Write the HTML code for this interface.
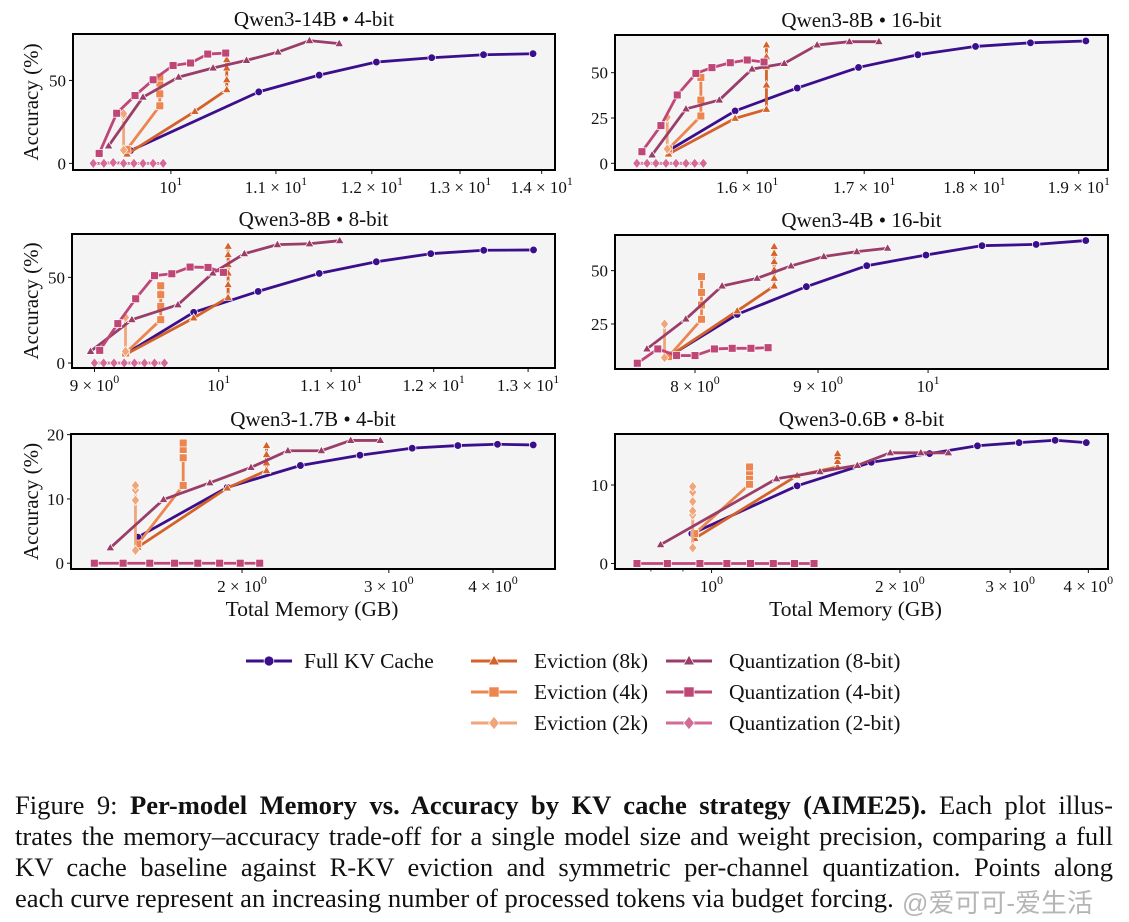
<!DOCTYPE html>
<html><head><meta charset="utf-8">
<style>
html,body{margin:0;padding:0;background:#fff;}
body{width:1129px;height:922px;position:relative;overflow:hidden;font-family:"Liberation Serif",serif;}
svg{position:absolute;left:0;top:0;}
.cap{position:absolute;left:15px;width:1098px;font-size:26.6px;line-height:31px;color:#111;text-align:justify;text-align-last:justify;white-space:nowrap;}
.cap.last{text-align-last:left;}
.wm{position:absolute;left:902px;top:883px;font-family:"Liberation Sans","Noto Sans CJK SC",sans-serif;font-size:26px;color:rgba(120,120,120,0.55);}
</style></head>
<body>
<svg id="fig" width="1129" height="922"></svg>
<div class="cap" style="top:790px">Figure 9: <b>Per-model Memory vs. Accuracy by KV cache strategy (AIME25).</b> Each plot illus-</div>
<div class="cap" style="top:821px">trates the memory–accuracy trade-off for a single model size and weight precision, comparing a full</div>
<div class="cap" style="top:852px">KV cache baseline against R-KV eviction and symmetric per-channel quantization. Points along</div>
<div class="cap last" style="top:883px">each curve represent an increasing number of processed tokens via budget forcing.</div>
<div class="wm">@爱可可-爱生活</div>
<script>
// ---- Panel 1: Qwen3-14B 4-bit ----
const p1_full=[[9.64,7.7],[10.83,43.1],[11.44,53.2],[12.05,61.1],[12.67,63.7],[13.28,65.5],[13.89,66.1]];
const p1_ev8=[[9.61,5.6],[10.22,31.3],[10.52,44.4],[10.52,50.4],[10.52,57.5],[10.52,62.5]];
const p1_ev4=[[9.61,8.5],[9.90,34.7],[9.90,41.9],[9.90,48.4],[9.90,52]];
const p1_ev2=[[9.58,8],[9.58,28.6],[9.58,30]];
const p1_q8=[[9.45,10.5],[9.75,39.9],[10.07,52],[10.39,57.5],[10.71,62.1],[11.02,67.1],[11.34,74],[11.65,72.2]];
const p1_q4=[[9.37,6],[9.52,30.2],[9.68,40.9],[9.84,50.4],[10.02,59],[10.18,60.5],[10.34,65.9],[10.51,66.5]];
const p1_q2=[[9.32,0],[9.41,0],[9.49,0.5],[9.58,0],[9.67,0],[9.75,0],[9.84,0],[9.93,0]];
// ---- Panel 2: Qwen3-8B 16-bit ----
const p2_full=[[15.36,7],[15.90,28.9],[16.42,41.5],[16.95,52.9],[17.48,59.9],[18.01,64.5],[18.53,66.5],[19.07,67.5]];
const p2_ev8=[[15.36,5.1],[15.90,24.8],[16.16,29.8],[16.16,43.2],[16.16,53.3],[16.16,58.8],[16.16,65.3]];
const p2_ev4=[[15.36,7.9],[15.62,26.1],[15.62,34.9],[15.62,47.4]];
const p2_ev2=[[15.35,7.9],[15.35,25.4]];
const p2_q8=[[15.23,4.6],[15.50,30],[15.77,34.9],[16.04,52],[16.31,55.1],[16.59,65.3],[16.87,67.1],[17.13,67.1]];
const p2_q4=[[15.15,6.4],[15.30,20.8],[15.43,37.7],[15.58,49.6],[15.71,52.8],[15.86,55.5],[16.0,57],[16.14,55.9]];
const p2_q2=[[15.11,0],[15.19,0],[15.26,0],[15.34,0],[15.42,0],[15.50,0],[15.57,0],[15.64,0]];
// ---- Panel 3: Qwen3-8B 8-bit ----
const p3_full=[[9.25,5.8],[9.79,29.6],[10.34,41.8],[10.89,52.3],[11.43,59.1],[11.97,63.8],[12.52,65.8],[13.06,66]];
const p3_ev8=[[9.25,5.4],[9.79,26.3],[10.08,38.3],[10.08,45.7],[10.08,52.5],[10.08,57.4],[10.08,63.2],[10.08,68.1]];
const p3_ev4=[[9.24,5.8],[9.52,25.3],[9.52,33.1],[9.52,39.9],[9.52,45.1]];
const p3_ev2=[[9.24,6.8],[9.24,26.7]];
const p3_q8=[[8.97,6.8],[9.29,25.3],[9.66,34],[9.95,52.5],[10.22,63.8],[10.51,69.1],[10.80,69.6],[11.08,71.4]];
const p3_q4=[[9.04,7.4],[9.18,23],[9.32,37.5],[9.47,51],[9.61,52.1],[9.76,56],[9.91,55.8],[10.04,52.9]];
const p3_q2=[[9.0,0],[9.07,0],[9.15,0],[9.23,0],[9.31,0],[9.39,0],[9.47,0],[9.55,0]];
// ---- Panel 4: Qwen3-4B 16-bit ----
const p4_full=[[7.82,10.5],[8.33,29.5],[8.90,42.5],[9.43,52.3],[9.98,57.3],[10.53,61.7],[11.09,62.3],[11.63,64.1]];
const p4_ev8=[[7.79,9.2],[8.33,31.1],[8.63,42.8],[8.63,46.4],[8.63,50.3],[8.63,54.2],[8.63,58.1],[8.63,61.3]];
const p4_ev4=[[7.80,9.7],[8.05,27.2],[8.05,33.9],[8.05,39.8],[8.05,47.2]];
const p4_ev2=[[7.77,9.2],[7.77,25]];
const p4_q8=[[7.64,13.3],[7.93,27.3],[8.21,42.8],[8.49,46.4],[8.77,52.2],[9.05,56.6],[9.34,58.9],[9.62,60.5]];
const p4_q4=[[7.57,6.6],[7.72,13.3],[7.86,10.2],[8.0,10.2],[8.15,13.3],[8.29,13.6],[8.44,13.6],[8.58,13.9]];
const p4_q2=[];
// ---- Panel 5: Qwen3-1.7B 4-bit ----
const p5_full=[[1.50,4.05],[1.92,11.8],[2.35,15.2],[2.77,16.8],[3.20,17.9],[3.63,18.3],[4.05,18.5],[4.47,18.4]];
const p5_ev8=[[1.50,2.5],[1.92,11.7],[2.14,14.4],[2.14,15.6],[2.14,16.9],[2.14,18.3]];
const p5_ev4=[[1.50,3.0],[1.70,12.1],[1.70,16.4],[1.70,17.7],[1.70,18.7]];
const p5_ev2=[[1.49,2.0],[1.49,9.8],[1.49,11.4],[1.49,12.1]];
const p5_q8=[[1.39,2.4],[1.61,9.9],[1.83,12.5],[2.05,14.9],[2.27,17.5],[2.49,17.5],[2.70,19.1],[2.93,19.1]];
const p5_q4=[[1.33,0],[1.44,0],[1.55,0],[1.66,0],[1.77,0],[1.88,0],[1.99,0],[2.10,0]];
const p5_q2=[];
// ---- Panel 6: Qwen3-0.6B 8-bit ----
const p6_full=[[0.93,3.8],[1.37,9.9],[1.80,12.9],[2.23,14.0],[2.66,15.0],[3.10,15.4],[3.54,15.7],[3.97,15.4]];
const p6_ev8=[[0.94,3.2],[1.37,11.2],[1.59,12.3],[1.59,13.0],[1.59,13.6],[1.59,14.0]];
const p6_ev4=[[0.94,3.8],[1.15,10.1],[1.15,11.1],[1.15,11.7],[1.15,12.3]];
const p6_ev2=[[0.933,2.0],[0.933,6.2],[0.933,6.7],[0.933,7.9],[0.933,9.1],[0.933,9.8]];
const p6_q8=[[0.829,2.4],[1.27,10.8],[1.49,11.7],[1.71,12.5],[1.93,14.1],[2.16,14.1],[2.39,14.1]];
const p6_q4=[[0.76,0],[0.85,0],[0.958,0],[1.058,0],[1.154,0],[1.255,0],[1.357,0],[1.458,0]];
const p6_q2=[];
// tick labels
const p1_xticks=[[10,'10','1'],[11,'1.1 × 10','1'],[12,'1.2 × 10','1'],[13,'1.3 × 10','1'],[14,'1.4 × 10','1']];
const p2_xticks=[[16,'1.6 × 10','1'],[17,'1.7 × 10','1'],[18,'1.8 × 10','1'],[19,'1.9 × 10','1']];
const p3_xticks=[[9,'9 × 10','0'],[10,'10','1'],[11,'1.1 × 10','1'],[12,'1.2 × 10','1'],[13,'1.3 × 10','1']];
const p4_xticks=[[8,'8 × 10','0'],[9,'9 × 10','0'],[10,'10','1']];
const p5_xticks=[[2,'2 × 10','0'],[3,'3 × 10','0'],[4,'4 × 10','0']];
const p6_xticks=[[1,'10','0'],[2,'2 × 10','0'],[3,'3 × 10','0'],[4,'4 × 10','0']];
const p1_yticks=[0,50], p2_yticks=[0,25,50], p3_yticks=[0,50], p4_yticks=[25,50], p5_yticks=[0,10,20], p6_yticks=[0,10];
const p6_minor=[0.8,0.9];

const NS='http://www.w3.org/2000/svg';
const svg=document.getElementById('fig');
function mk(tag,attrs,parent){const e=document.createElementNS(NS,tag);for(const k in attrs)e.setAttribute(k,attrs[k]);(parent||svg).appendChild(e);return e;}
const STY={
 full:{c:'#3b0f8c',m:'circle',name:'Full KV Cache'},
 ev8:{c:'#d4622a',m:'tri',name:'Eviction (8k)'},
 ev4:{c:'#ec8650',m:'sq',name:'Eviction (4k)'},
 ev2:{c:'#f1a57a',m:'dia',name:'Eviction (2k)'},
 q8:{c:'#9a3d68',m:'tri',name:'Quantization (8-bit)'},
 q4:{c:'#bf4677',m:'sq',name:'Quantization (4-bit)'},
 q2:{c:'#d46a97',m:'dia',name:'Quantization (2-bit)'}
};
function marker(g,type,x,y,c,s){
 s=s||1;let e;
 if(type==='circle'){e=mk('circle',{cx:x,cy:y,r:3.8*s,fill:c,stroke:'#fff','stroke-width':0.7},g);}
 else if(type==='tri'){const r=4.5*s;e=mk('polygon',{points:`${x},${y-r} ${x+r*0.95},${y+r*0.65} ${x-r*0.95},${y+r*0.65}`,fill:c,stroke:'#fff','stroke-width':0.7},g);}
 else if(type==='sq'){const r=3.9*s;e=mk('rect',{x:x-r,y:y-r,width:2*r,height:2*r,fill:c,stroke:'#fff','stroke-width':0.7},g);}
 else {const r=5.2*s;e=mk('polygon',{points:`${x},${y-r} ${x+r*0.8},${y} ${x},${y+r} ${x-r*0.8},${y}`,fill:c,stroke:'#fff','stroke-width':0.7},g);}
 return e;
}
function label(g,x,y,base,sup,anchor,size){
 const t=mk('text',{x:x,y:y,'text-anchor':anchor||'middle','font-size':size||17,'font-family':'Liberation Serif, serif',fill:'#111'},g);
 t.appendChild(document.createTextNode(base));
 if(sup){const ts=mk('tspan',{dy:-8,'font-size':12},t);ts.textContent=sup;}
 return t;
}
const panels=[
 {id:'p1',title:'Qwen3-14B • 4-bit',f:[73,34,482,136],xl:[9.15,14.17],yl:[-4,78],xt:p1_xticks,yt:p1_yticks,minor:[],ylab:true,xlab:false,
  s:{full:p1_full,ev8:p1_ev8,ev4:p1_ev4,ev2:p1_ev2,q8:p1_q8,q4:p1_q4,q2:p1_q2}},
 {id:'p2',title:'Qwen3-8B • 16-bit',f:[615,35,493,135],xl:[14.94,19.29],yl:[-3.7,70.8],xt:p2_xticks,yt:p2_yticks,minor:[],ylab:false,xlab:false,
  s:{full:p2_full,ev8:p2_ev8,ev4:p2_ev4,ev2:p2_ev2,q8:p2_q8,q4:p2_q4,q2:p2_q2}},
 {id:'p3',title:'Qwen3-8B • 8-bit',f:[72,234,483,134],xl:[8.83,13.30],yl:[-2.9,75.3],xt:p3_xticks,yt:p3_yticks,minor:[],ylab:true,xlab:false,
  s:{full:p3_full,ev8:p3_ev8,ev4:p3_ev4,ev2:p3_ev2,q8:p3_q8,q4:p3_q4,q2:p3_q2}},
 {id:'p4',title:'Qwen3-4B • 16-bit',f:[615,235,493,134],xl:[7.41,11.88],yl:[3.9,66.7],xt:p4_xticks,yt:p4_yticks,minor:[],ylab:false,xlab:false,
  s:{full:p4_full,ev8:p4_ev8,ev4:p4_ev4,ev2:p4_ev2,q8:p4_q8,q4:p4_q4,q2:p4_q2}},
 {id:'p5',title:'Qwen3-1.7B • 4-bit',f:[71,434,484,135],xl:[1.247,4.747],yl:[-0.9,20.1],xt:p5_xticks,yt:p5_yticks,minor:[],ylab:true,xlab:true,
  s:{full:p5_full,ev8:p5_ev8,ev4:p5_ev4,ev2:p5_ev2,q8:p5_q8,q4:p5_q4,q2:p5_q2}},
 {id:'p6',title:'Qwen3-0.6B • 8-bit',f:[615,434,493,135],xl:[0.701,4.30],yl:[-0.7,16.5],xt:p6_xticks,yt:p6_yticks,minor:p6_minor,ylab:false,xlab:true,
  s:{full:p6_full,ev8:p6_ev8,ev4:p6_ev4,ev2:p6_ev2,q8:p6_q8,q4:p6_q4,q2:p6_q2}}
];
panels.forEach(p=>{
 const [fx,fy,fw,fh]=p.f;
 const X=v=>fx+(Math.log(v)-Math.log(p.xl[0]))/(Math.log(p.xl[1])-Math.log(p.xl[0]))*fw;
 const Y=v=>fy+fh-(v-p.yl[0])/(p.yl[1]-p.yl[0])*fh;
 const g=mk('g',{});
 
 
 const bg=mk('rect',{x:fx,y:fy,width:fw,height:fh,fill:'#f4f4f5'},g);
 
 
 const tt=mk('text',{x:fx+fw/2,y:fy-8,'text-anchor':'middle','font-size':21,'font-family':'Liberation Serif, serif',fill:'#111'},g);
 tt.textContent=p.title;
 
 
 p.yt.forEach(v=>{
  const y=Y(v);
  mk('line',{x1:fx-4,x2:fx,y1:y,y2:y,stroke:'#111','stroke-width':1},g);
  const t=label(g,fx-7,y+6,String(v),null,'end',17);
  
  
 });
 p.xt.forEach(tk=>{
  const x=X(tk[0]);
  mk('line',{x1:x,x2:x,y1:fy+fh,y2:fy+fh+4,stroke:'#111','stroke-width':1},g);
  const t=label(g,x,fy+fh+23,tk[1],tk[2],'middle',17);
  
  
 });
 p.minor.forEach(v=>{const x=X(v);mk('line',{x1:x,x2:x,y1:fy+fh,y2:fy+fh+2.5,stroke:'#111','stroke-width':0.8},g);});
 const clipId='clip'+p.id;
 const cp=mk('clipPath',{id:clipId},g);mk('rect',{x:fx,y:fy,width:fw,height:fh},cp);
 const sg=mk('g',{'clip-path':`url(#${clipId})`},g);
 ['full','ev8','ev4','ev2','q8','q4','q2'].forEach(k=>{
  const d=p.s[k]; if(!d||!d.length) return;
  const st=STY[k];
  const pl=mk('polyline',{points:d.map(q=>X(q[0])+','+Y(q[1])).join(' '),fill:'none',stroke:st.c,'stroke-width':2.8,'stroke-linejoin':'round'},sg);
  
  
  d.forEach(q=>{
   const m=marker(sg,st.m,X(q[0]),Y(q[1]),st.c);
   
   
  });
 });
 const fr=mk('rect',{x:fx,y:fy,width:fw,height:fh,fill:'none',stroke:'#000','stroke-width':2},g);
 
 
 if(p.ylab){
  const yl=mk('text',{x:0,y:0,transform:`translate(38,${fy+fh/2}) rotate(-90)`,'text-anchor':'middle','font-size':21,'font-family':'Liberation Serif, serif',fill:'#111'},g);
  yl.textContent='Accuracy (%)';
  
  
 }
 if(p.xlab){
  const xl=mk('text',{x:fx+fw/2+(p.id==='p6'?-6:-1),y:fy+fh+47,'text-anchor':'middle','font-size':21.5,'font-family':'Liberation Serif, serif',fill:'#111'},g);
  xl.textContent='Total Memory (GB)';
  
  
 }
});
const legendItems=[['full',246,661],['ev8',471,661],['ev4',471,692],['ev2',471,723],['q8',666,661],['q4',666,692],['q2',666,723]];
const lg=mk('g',{});


legendItems.forEach(it=>{
 const st=STY[it[0]];const x=it[1],y=it[2];
 const e=mk('g',{},lg);
 
 
 mk('line',{x1:x,x2:x+46,y1:y,y2:y,stroke:st.c,'stroke-width':3},e);
 marker(e,st.m,x+23,y,st.c,1.3);
 const t=mk('text',{x:x+(it[0]==='full'?58:63),y:y+7,'font-size':21.5,'font-family':'Liberation Serif, serif',fill:'#111'},e);
 t.textContent=st.name;
});
</script>
</body></html>
